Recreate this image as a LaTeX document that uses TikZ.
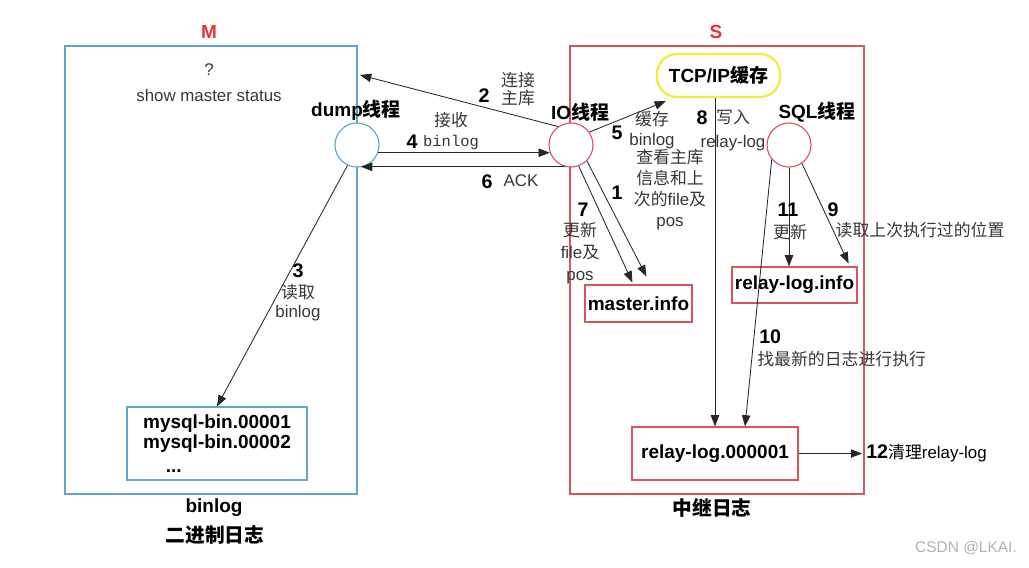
\documentclass[tikz,border=0pt]{standalone}
\usepackage{fontspec}
\setmainfont{Liberation Sans}
\newfontfamily\zhfont{Noto Sans CJK SC}
\newfontfamily\codefont{Liberation Mono}
\usetikzlibrary{arrows.meta,calc,positioning}
\definecolor{mblue}{RGB}{95,165,205}
\definecolor{sred}{RGB}{215,85,95}
\definecolor{mred}{RGB}{235,50,50}
\definecolor{tcpyellow}{RGB}{238,238,60}
\definecolor{labelgray}{RGB}{55,55,55}
\newcommand{\zh}[1]{{\zhfont #1}}
\tikzset{
    arr/.style    = {-{Triangle[length=8pt,width=6pt]}, line width=0.6pt, draw=black!85},
    frame/.style  = {rectangle, line width=0.9pt, minimum width=7.3cm, minimum height=11.2cm},
    mframe/.style = {frame, draw=mblue},
    sframe/.style = {frame, draw=sred, minimum width=7.35cm},
    thread/.style = {circle, line width=0.8pt, minimum size=1.1cm, inner sep=0pt, fill=white},
    filebox/.style = {rectangle, draw=sred, line width=0.8pt, inner sep=0pt,
                      font=\fontsize{13.5}{16}\selectfont\bfseries}
}

\begin{document}
\begin{tikzpicture}[x=0.025cm, y=-0.025cm,
        num/.style   = {font=\fontsize{14}{16}\selectfont\bfseries, inner sep=0pt},
        lbl/.style   = {font=\fontsize{12}{14}\selectfont, text=labelgray, inner sep=0pt, align=center},
        title/.style = {font=\fontsize{13.5}{16}\selectfont\bfseries, inner sep=0pt, align=center}
    ]
        \useasboundingbox (0,0) rectangle (1029,567);

        % Master / Slave frames
        \node[mframe] (mbox) at (211,270) {};
        \node[sframe] (sbox) at (717,270) {};
        \node[title, text=mred] (mname) at (209,32) {M};
        \node[title, text=mred] (sname) at (716,32) {S};
        \node[lbl] (ask) at (209,70) {?};
        \node[lbl] (show) at (209,95) {show master status};

        % Threads
        \node[thread, draw=mblue] (dump) at (357,145) {};
        \node[thread, draw=sred] (io) at (571,145) {};
        \node[thread, draw=sred] (sql) at (789,145) {};
        \node[title] (dumpname) at (356,110) {dump\zh{线程}};
        \node[title] (ioname) at (580,112) {IO\zh{线程}};
        \node[title] (sqlname) at (817,112) {SQL\zh{线程}};

        % Files and buffer
        \node[rectangle, draw=tcpyellow, line width=1.6pt, rounded corners=0.5cm,
              minimum width=3.075cm, minimum height=1.075cm,
              font=\fontsize{13.5}{16}\selectfont\bfseries] (tcp) at (718.5,75.5) {TCP/IP\zh{缓存}};
        \node[filebox, minimum width=2.675cm, minimum height=0.925cm] (minfo) at (638.5,303.5) {master.info};
        \node[filebox, minimum width=3.125cm, minimum height=0.9cm] (rinfo) at (794.5,285) {relay-log.info};
        \node[filebox, minimum width=4.15cm, minimum height=1.325cm] (rlog) at (715,453.5) {relay-log.000001};
        \node[filebox, draw=mblue, minimum width=4.5cm, minimum height=1.825cm, align=left,
              font=\fontsize{13.5}{14.5}\selectfont\bfseries] (binfile) at (217,443.5)
              {mysql-bin.00001\\mysql-bin.00002\\[2pt]\hspace*{1.2em}...};
        \node[title] (binname) at (214,508) {binlog};
        \node[title, font=\fontsize{14}{16}\selectfont\zhfont\bfseries] (binzh) at (215,535) {二进制日志};
        \node[title, font=\fontsize{14}{16}\selectfont\zhfont\bfseries] (relayzh) at (712,508) {中继日志};

        % Connectors
        \coordinate (c2) at (360,75);
        \draw[arr] (io.125) -- (c2);
        \draw[arr] (dump.-20) -- (io.200);
        \draw[arr] (io.255) -- ($(io.255 -| dump.south)+(4,0)$);
        \draw[arr] (dump.-115) -- (binfile.north);
        \draw[arr] (io.35) -- ($(tcp.south west)+(10,3)$);
        \draw[arr] (io.-70) -- ($(minfo.north west)+(48,-2)$);
        \draw[arr] (io.-45) -- ($(minfo.north west)+(62,-8)$);
        \draw[arr] (rlog.north |- tcp.south) -- (rlog.north);
        \draw[arr] (sql.-140) -- ($(rlog.north)+(30,0)$);
        \draw[arr] (sql.south) -- (sql.south |- rinfo.north);
        \draw[arr] (sql.-55) -- ($(rinfo.north east)+(-9,-3)$);
        \coordinate (c12) at (862,453.5);
        \draw[arr] (rlog.east) -- (c12);

        % Step labels
        \node[num] (n2) at (484,96) {2};
        \node[lbl, font=\fontsize{12}{13}\selectfont] (t2) at (518,89) {\zh{连接}\\\zh{主库}};
        \node[lbl] (t4a) at (451,120) {\zh{接收}};
        \node[num] (n4) at (412,142) {4};
        \node[lbl, font=\fontsize{11}{13}\selectfont\codefont] (t4) at (451,142) {binlog};
        \node[num] (n6) at (487,182) {6};
        \node[lbl] (t6) at (521,181) {ACK};
        \node[num] (n3) at (298,271) {3};
        \node[lbl, font=\fontsize{12}{13.5}\selectfont] (t3) at (298,302.5) {\zh{读取}\\binlog};
        \node[num] (n5) at (617,133) {5};
        \node[lbl] (t5) at (652,130) {\zh{缓存}\\binlog};
        \node[num] (n1) at (617,193) {1};
        \node[lbl, font=\fontsize{12}{15}\selectfont] (t1) at (670,190) {\zh{查看主库}\\\zh{信息和上}\\\zh{次的}file\zh{及}\\pos};
        \node[num] (n7) at (583,210) {7};
        \node[lbl, font=\fontsize{12}{15.5}\selectfont] (t7) at (580,253) {\zh{更新}\\file\zh{及}\\pos};
        \node[num] (n8) at (702,118) {8};
        \node[lbl, font=\fontsize{12}{17}\selectfont] (t8) at (733,130) {\zh{写入}\\relay-log};
        \node[num] (n11) at (788,210) {11};
        \node[lbl] (t11) at (790,232) {\zh{更新}};
        \node[num] (n9) at (833,210) {9};
        \node[lbl] (t9) at (920,230) {\zh{读取上次执行过的位置}};
        \node[num, anchor=west] (n10) at (759,337) {10};
        \node[lbl, anchor=west] (t10) at (757,359) {\zh{找最新的日志进行执行}};
        \node[lbl, anchor=west, text=black] (t12) at ($(c12)+(4,0)$) {{\fontsize{14}{16}\selectfont\bfseries 12}\zh{清理}relay-log};

        % Watermark
        \node[lbl, text=black!30, font=\fontsize{11}{13}\selectfont] (mark) at (966,548) {CSDN @LKAI.};

    \end{tikzpicture}
\end{document}
